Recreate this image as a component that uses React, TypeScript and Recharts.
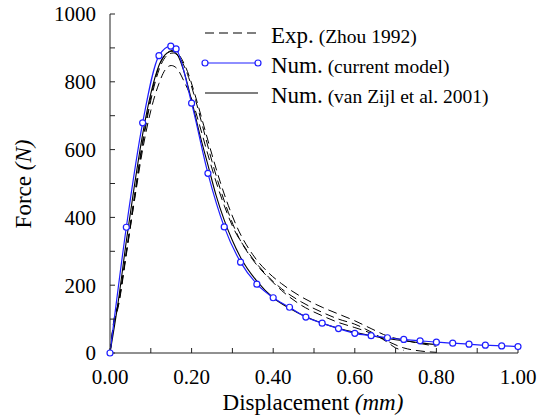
import { LineChart, Line, XAxis, YAxis, Legend, Label } from 'recharts';

const FONT = 'Liberation Serif, DejaVu Serif, serif';
const BLUE = '#1f1fff';

const xTicks = [0, 0.1, 0.2, 0.3, 0.4, 0.5, 0.6, 0.7, 0.8, 0.9, 1.0];
const yTicks = [0, 100, 200, 300, 400, 500, 600, 700, 800, 900, 1000];

// experimental curves (Zhou 1992), three specimens
const expA: [number, number][] = [
  [0, 0], [0.01, 95], [0.02, 140], [0.04, 295], [0.06, 450], [0.08, 600], [0.1, 715],
  [0.12, 795], [0.135, 835], [0.15, 848], [0.165, 838], [0.18, 805], [0.2, 750],
  [0.22, 670], [0.24, 585], [0.26, 505], [0.28, 435], [0.3, 375], [0.34, 295],
  [0.38, 235], [0.42, 190], [0.47, 150], [0.52, 120], [0.56, 100], [0.6, 85],
  [0.64, 62], [0.68, 35], [0.72, 15], [0.76, 6], [0.8, 2],
];
const expB: [number, number][] = [
  [0, 0], [0.01, 100], [0.02, 145], [0.04, 300], [0.06, 465], [0.08, 625], [0.1, 755],
  [0.12, 845], [0.14, 885], [0.155, 893], [0.17, 878], [0.19, 830], [0.21, 755],
  [0.23, 670], [0.25, 585], [0.27, 505], [0.29, 435], [0.31, 375], [0.35, 290],
  [0.39, 235], [0.42, 205], [0.47, 165], [0.52, 135], [0.56, 115], [0.6, 95],
  [0.64, 72], [0.68, 50], [0.72, 38], [0.76, 28], [0.8, 20],
];
const expC: [number, number][] = [
  [0, 0], [0.01, 90], [0.02, 135], [0.04, 290], [0.06, 455], [0.08, 615], [0.1, 745],
  [0.12, 835], [0.14, 878], [0.155, 885], [0.17, 872], [0.19, 822], [0.21, 745],
  [0.23, 655], [0.25, 565], [0.27, 485], [0.29, 415], [0.31, 355], [0.35, 275],
  [0.39, 220], [0.42, 185], [0.47, 140], [0.52, 110], [0.56, 90], [0.6, 75],
  [0.64, 58], [0.68, 32], [0.7, 15], [0.72, 8],
];

// current model (markers)
const numCurrent: [number, number][] = [
  [0, 0], [0.04, 371], [0.08, 679], [0.12, 877], [0.149, 905], [0.162, 897],
  [0.2, 737], [0.24, 530], [0.28, 372], [0.32, 268], [0.36, 203], [0.4, 163],
  [0.44, 135], [0.48, 106], [0.52, 88], [0.56, 72], [0.6, 58], [0.64, 51],
  [0.68, 45], [0.72, 40], [0.76, 36], [0.8, 32], [0.84, 29], [0.88, 26],
  [0.92, 23], [0.96, 21], [1.0, 19],
];

// van Zijl et al. 2001
const numVanZijl: [number, number][] = [
  [0, 0], [0.02, 150], [0.04, 330], [0.06, 495], [0.08, 645], [0.1, 765],
  [0.12, 848], [0.14, 885], [0.152, 890], [0.165, 880], [0.18, 835], [0.2, 745],
  [0.22, 645], [0.24, 555], [0.26, 465], [0.28, 392], [0.3, 332], [0.32, 282],
  [0.36, 212], [0.4, 163], [0.44, 132], [0.48, 107], [0.52, 88], [0.56, 73],
  [0.6, 61], [0.64, 51], [0.68, 43], [0.72, 36], [0.76, 30], [0.8, 25],
];

const pts = (arr: [number, number][]) => arr.map(([x, y]) => ({ x, y }));

const fmtX = (v: number) => (Math.round(v * 10) % 2 === 0 ? v.toFixed(2) : '');
const fmtY = (v: number) => (v % 200 === 0 ? String(v) : '');
const blank = () => '';

const tickStyle = { fontSize: 21, fill: '#000', fontFamily: FONT, style: { fontFamily: FONT } };

function LegendBox() {
  const rows = [
    { main: 'Exp.', sub: '(Zhou 1992)', kind: 'dash' },
    { main: 'Num.', sub: '(current model)', kind: 'dot' },
    { main: 'Num.', sub: '(van Zijl et al. 2001)', kind: 'solid' },
  ];
  return (
    <svg width={340} height={110} style={{ display: 'block' }}>
      {rows.map((r, i) => {
        const y = 33 + i * 30;
        return (
          <g key={i}>
            <line
              x1={15}
              x2={68}
              y1={y}
              y2={y}
              stroke={r.kind === 'dot' ? BLUE : '#000'}
              strokeWidth={1.2}
              strokeDasharray={r.kind === 'dash' ? '9 5' : undefined}
            />
            {r.kind === 'dot' && (
              <>
                <circle cx={15} cy={y} r={3} fill="#fff" stroke={BLUE} strokeWidth={1.2} />
                <circle cx={68} cy={y} r={3} fill="#fff" stroke={BLUE} strokeWidth={1.2} />
              </>
            )}
            <text x={81} y={y + 10} style={{ fontFamily: FONT }} fontSize={23} fill="#000">
              {r.main}
              <tspan fontSize={19.5}> {r.sub}</tspan>
            </text>
          </g>
        );
      })}
    </svg>
  );
}

export default function App() {
  return (
    <div style={{ position: 'absolute', left: 0, top: 0, width: 554, height: 419, background: '#fff', fontFamily: FONT }}>
      <LineChart width={554} height={419} margin={{ top: 14, right: 36, bottom: 0, left: 0 }} style={{ fontFamily: FONT }}>
        <XAxis
          dataKey="x"
          type="number"
          domain={[0, 1]}
          ticks={xTicks}
          tickFormatter={fmtX}
          height={66}
          tickSize={-5}
          tickMargin={21}
          stroke="#222"
          tick={tickStyle}
          interval={0}
        >
          <Label
            content={() => (
              <text x={313} y={410} textAnchor="middle" style={{ fontFamily: FONT }} fontSize={23} fill="#000">
                Displacement <tspan fontStyle="italic">(mm)</tspan>
              </text>
            )}
          />
        </XAxis>
        <XAxis
          xAxisId="top"
          orientation="top"
          type="number"
          domain={[0, 1]}
          ticks={xTicks}
          tickFormatter={blank}
          height={0}
          tickSize={-5}
          stroke="#222"
          interval={0}
        />
        <YAxis
          type="number"
          domain={[0, 1000]}
          ticks={yTicks}
          tickFormatter={fmtY}
          width={110}
          tickSize={-5}
          tickMargin={19}
          stroke="#222"
          tick={tickStyle}
          interval={0}
        >
          <Label
            content={() => (
              <text
                x={31}
                y={184}
                textAnchor="middle"
                transform="rotate(-90 31 184)"
                style={{ fontFamily: FONT }}
                fontSize={23}
                fill="#000"
              >
                Force <tspan fontStyle="italic">(N)</tspan>
              </text>
            )}
          />
        </YAxis>
        <YAxis
          yAxisId="right"
          orientation="right"
          type="number"
          domain={[0, 1000]}
          ticks={yTicks}
          tickFormatter={blank}
          width={0}
          tickSize={-5}
          stroke="#222"
          interval={0}
        />
        <Legend
          layout="horizontal"
          verticalAlign="middle"
          align="center"
          wrapperStyle={{ top: 0, left: 190, width: 340, height: 110 }}
          content={() => <LegendBox />}
        />
        <Line data={pts(expA)} dataKey="y" type="monotone" stroke="#000" strokeWidth={1} strokeDasharray="9 5" dot={false} isAnimationActive={false} legendType="none" />
        <Line data={pts(expB)} dataKey="y" type="monotone" stroke="#000" strokeWidth={1} strokeDasharray="9 5" dot={false} isAnimationActive={false} legendType="none" />
        <Line data={pts(expC)} dataKey="y" type="monotone" stroke="#000" strokeWidth={1} strokeDasharray="9 5" dot={false} isAnimationActive={false} legendType="none" />
        <Line data={pts(numVanZijl)} dataKey="y" type="monotone" stroke="#000" strokeWidth={1.1} dot={false} isAnimationActive={false} />
        <Line
          data={pts(numCurrent)}
          dataKey="y"
          type="monotone"
          stroke={BLUE}
          strokeWidth={1.2}
          dot={{ r: 3, fill: '#fff', stroke: BLUE, strokeWidth: 1.2 }}
          isAnimationActive={false}
        />
      </LineChart>
    </div>
  );
}
